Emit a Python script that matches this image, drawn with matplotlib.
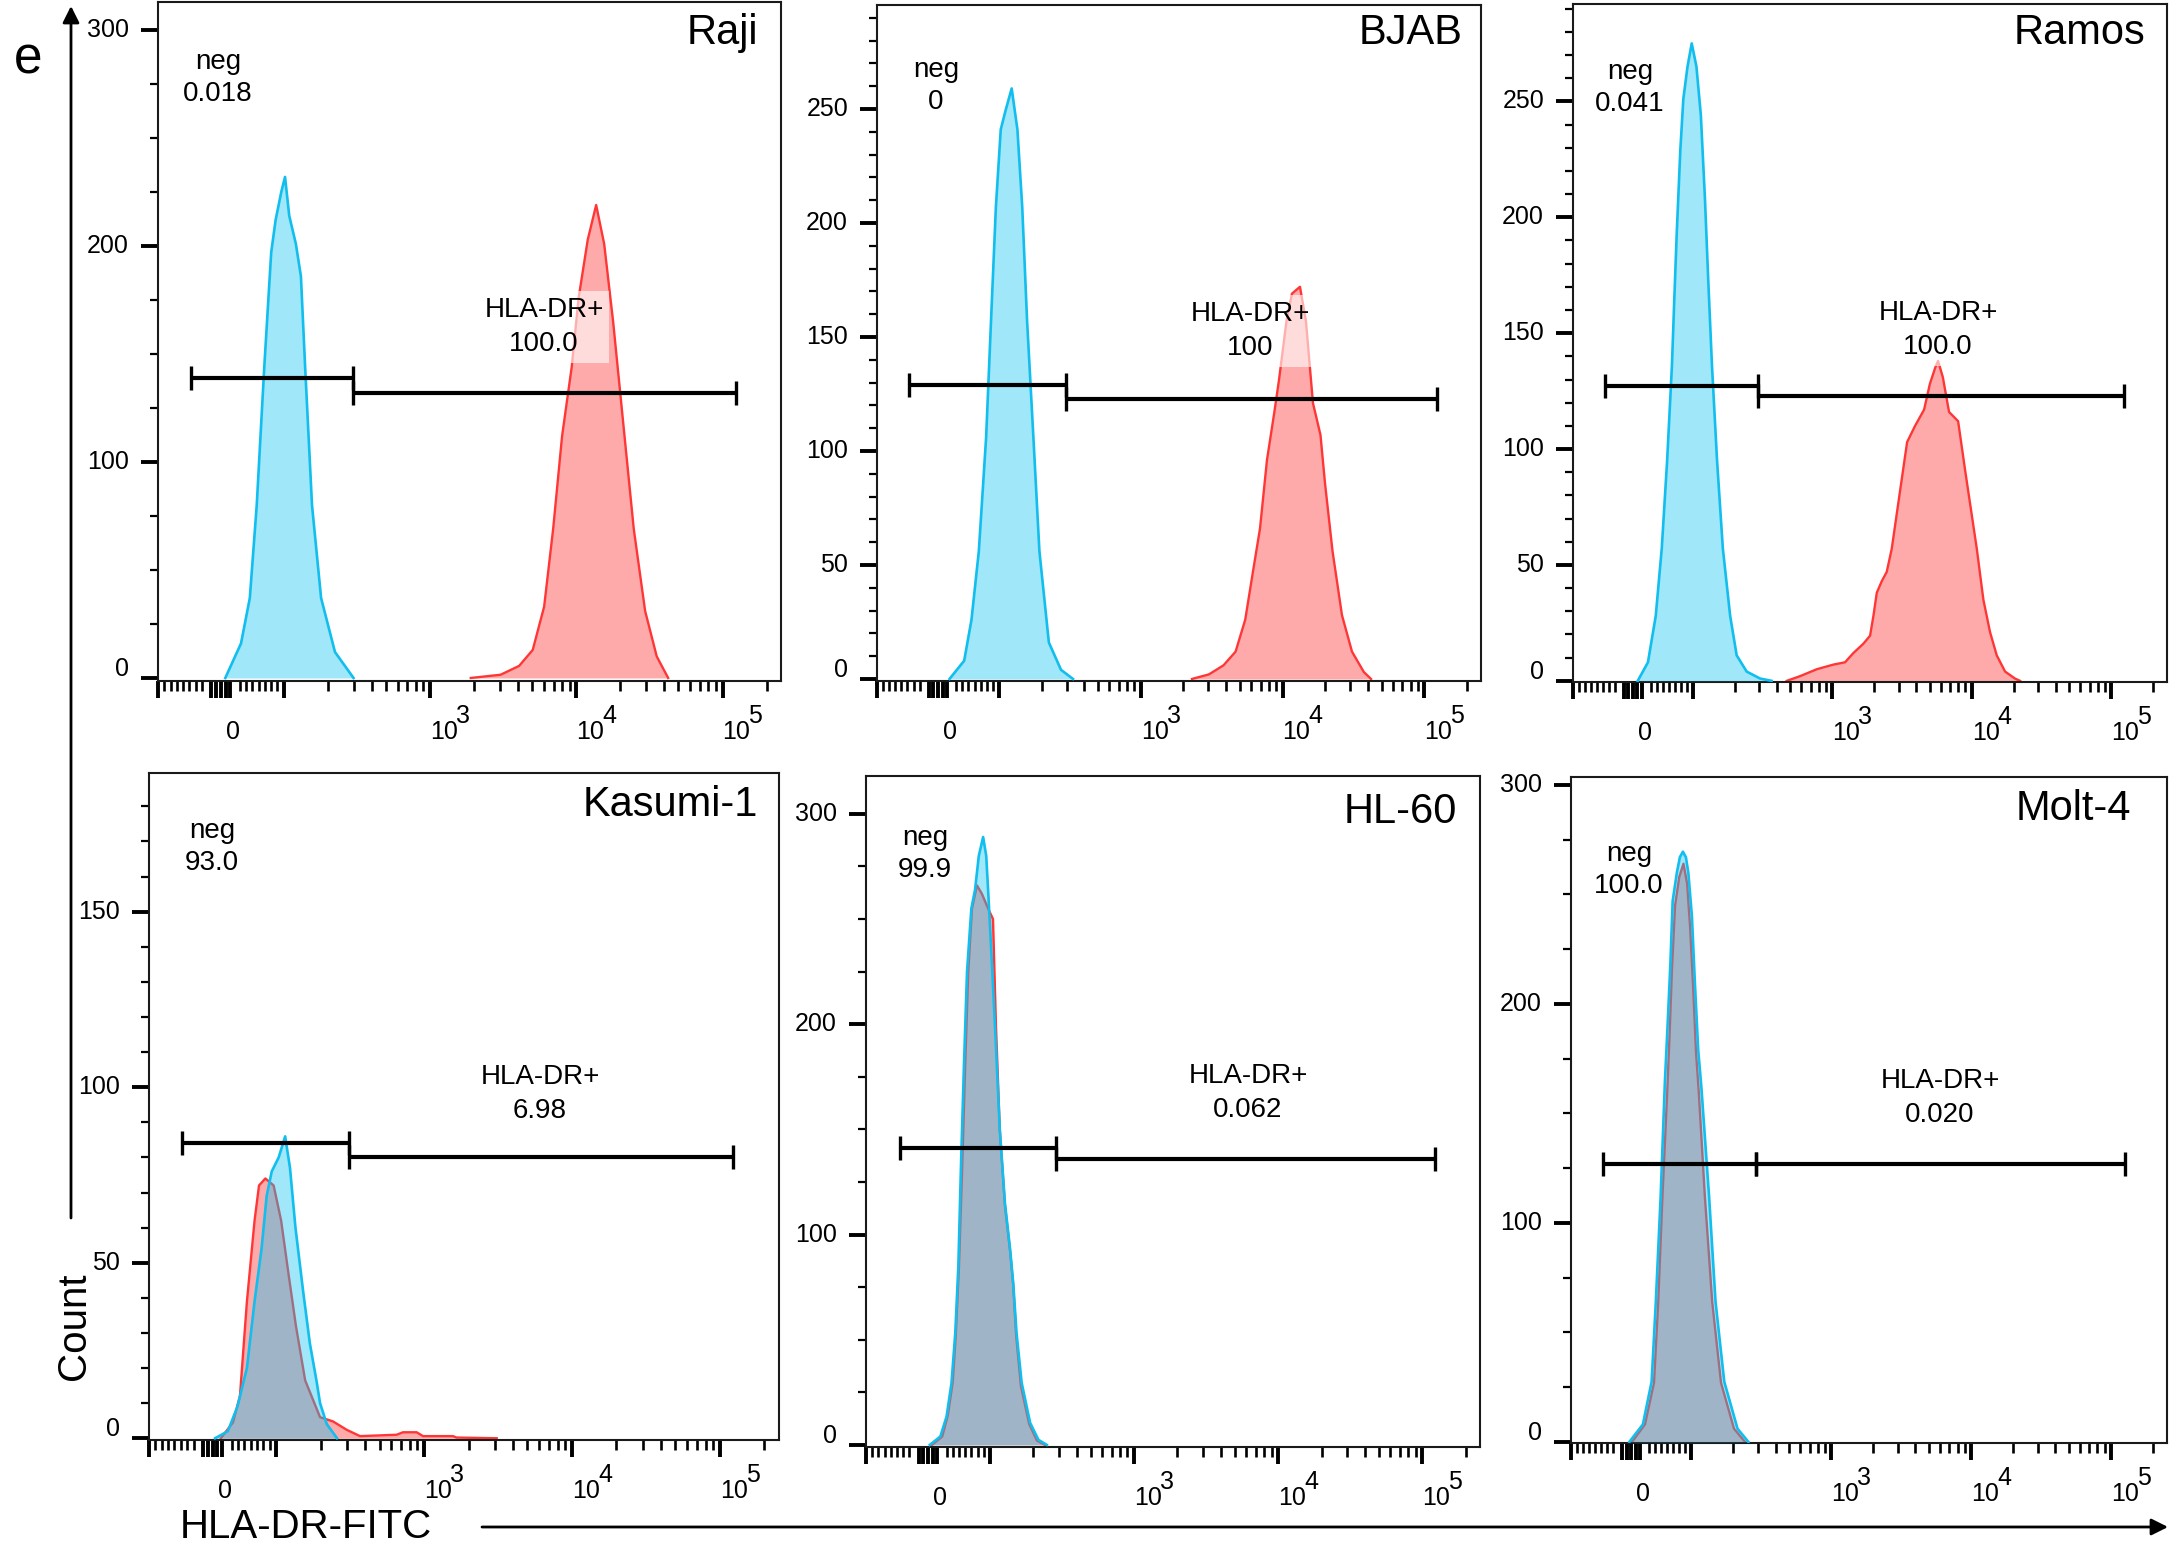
import numpy as np
import matplotlib
matplotlib.use("Agg")
import matplotlib.pyplot as plt
from matplotlib.transforms import ScaledTranslation, blended_transform_factory

# ---------------------------------------------------------------
# data (fluorescence value, count)
# ctrl = isotype / unstained (cyan), stain = HLA-DR-FITC (red)
# ---------------------------------------------------------------
cell_lines = ["Raji", "BJAB", "Ramos", "Kasumi-1", "HL-60", "Molt-4"]
neg_pct = ["0.018", "0", "0.041", "93.0", "99.9", "100.0"]
pos_pct = ["100.0", "100", "100.0", "6.98", "0.062", "0.020"]

raji_ctrl_x = [7, 32, 46, 57, 69, 80, 87, 96, 102, 109, 121, 131, 140, 156, 180, 224, 300]
raji_ctrl_n = [0, 16, 37, 80, 144, 197, 212, 225, 232, 214, 201, 186, 144, 80, 37, 12, 0]
raji_stain_x = [1900, 3040, 4070, 5040, 6030, 6950, 8000, 9310, 10380, 11990, 13680,
                15520, 17870, 20600, 24730, 29580, 35500, 42500]
raji_stain_n = [0, 1.5, 5.6, 13, 33, 69, 112, 144, 176, 203, 219, 201, 165, 123, 69, 31, 10, 0]

bjab_ctrl_x = [19, 43, 55, 67, 79, 87, 95, 103, 111, 123, 135, 146, 158, 175, 193, 225, 274, 333]
bjab_ctrl_n = [0, 8, 26, 56, 106, 157, 207, 241, 249, 259, 241, 207, 157, 106, 56, 16, 4, 0]
bjab_stain_x = [2300, 3030, 3840, 4670, 5460, 6150, 6940, 7770, 8760, 9440, 10670, 11660,
                13280, 14630, 16400, 18530, 19930, 22540, 26260, 30900, 37500, 42100]
bjab_stain_n = [0, 2, 6, 12, 26, 46, 66, 96, 117, 131, 157, 169, 172, 157, 121, 107, 86,
                56, 28, 12, 3, 0]

ramos_ctrl_x = [8, 25, 38, 48, 57, 65, 69, 73, 79, 84, 91, 98, 106, 114, 122, 129, 137,
                149, 164, 185, 206, 243, 303, 367]
ramos_ctrl_n = [0, 8, 28, 57, 95, 136, 165, 193, 229, 251, 265, 275, 265, 244, 208, 172,
                136, 95, 57, 28, 11, 4, 1, 0]
ramos_stain_x = [471, 586, 773, 1016, 1233, 1415, 1668, 1865, 1970, 2083, 2262, 2455, 2667,
                 3010, 3437, 3920, 4550, 5000, 5460, 5730, 6200, 6870, 7980, 8950, 10860,
                 12110, 13520, 15100, 17330, 20400, 22180]
ramos_stain_n = [0, 2, 5, 7, 8, 12, 16, 19.5, 28, 38, 43, 47, 57, 79, 103, 110, 117, 128,
                 135, 138, 131, 116, 112, 91, 57, 35, 21, 11, 4, 1, 0]

kasumi_ctrl_x = [4, 24, 39, 54, 66, 77, 85, 93, 104, 115, 124, 135, 152, 169, 188, 198, 220, 258]
kasumi_ctrl_n = [0, 2, 9, 20, 39, 54, 69, 76, 80, 86, 77, 60, 42, 27, 16, 10, 4, 0]
kasumi_stain_x = [13, 32, 43, 54, 66, 73, 83, 96, 108, 121, 136, 157, 198, 242, 300, 369,
                  653, 720, 891, 984, 1568, 1660, 3100]
kasumi_stain_n = [0, 4.5, 12, 39, 62, 72, 74, 72, 62, 47, 32, 16.5, 6, 4.8, 2.4, 0.6, 1,
                  1.7, 1.7, 0.6, 0.6, 0.2, 0]

hl60_ctrl_x = [3, 20, 30, 38, 44, 49, 53, 58, 63, 70, 76, 82, 89, 94, 97, 103, 110, 117,
               127, 138, 145, 153, 166, 190, 217, 248]
hl60_ctrl_n = [0, 4, 13.5, 29.5, 53, 85, 130, 180, 225, 255, 264, 280, 289, 280, 264, 230,
               190, 150, 115, 93, 77, 53, 29.5, 10.5, 2.4, 0]
hl60_stain_x = [6.5, 23, 32, 40, 45, 50, 55, 60, 65, 71, 79, 87, 97, 105, 110, 117, 127,
                138, 145, 152, 164, 187, 212, 241]
hl60_stain_n = [0, 4, 14, 30, 53, 85, 130, 180, 225, 255, 266, 262, 255, 250, 200, 150,
                114, 92, 76, 52, 28, 10, 2, 0]

molt4_ctrl_x = [-3, 19.5, 34, 41, 49, 56, 60, 65, 69, 76, 81, 86, 91, 95, 101, 106, 112,
                118, 134, 149, 172, 214, 256]
molt4_ctrl_n = [0, 8, 27.5, 64, 112, 164, 187, 217, 247, 260, 267, 269.5, 267, 260, 240,
                210, 179, 162, 112, 64, 27.5, 6, 0]
molt4_stain_x = [1.4, 23, 38, 45, 52, 60, 64, 68, 73, 80, 87, 93, 98, 103, 108, 113, 125,
                 141, 163, 202, 242]
molt4_stain_n = [0, 8, 27, 64, 112, 160, 187, 217, 245, 258, 264, 255, 235, 208, 178, 160,
                 112, 64, 27, 6, 0]

# gates: neg (lo, hi), pos (lo, hi), bar heights (count)
neg_gates = [(-48, 296), (-48, 297), (-47, 293), (-48, 310), (-45, 288), (-47, 292)]
pos_gates = [(296, 123900), (297, 122500), (293, 124000), (310, 122700), (288, 122800),
             (292, 125600)]
neg_gate_h = [139, 129, 127, 84, 141, 127]
pos_gate_h = [132, 123, 123, 80, 136, 127]

# y axis: (ymin, ymax), major step, minor step, last labelled tick
y_limits = [(-1.4, 313), (-0.9, 295.6), (-0.5, 292), (-0.5, 189.5), (-1, 318), (-0.5, 303.6)]
y_major = [100, 50, 50, 50, 100, 100]
y_minor = [25, 10, 10, 10, 25, 25]
y_top_label = [300, 250, 250, 150, 300, 300]

# ---------------------------------------------------------------
# layout (pixels in the 2170 x 1550 figure)
# ---------------------------------------------------------------
W, H = 2170, 1550
BOXES = [(158, 2, 781, 681), (877, 5, 1481, 681), (1573, 4, 2167, 682),
         (149, 773, 779, 1440), (866, 776, 1480, 1447), (1571, 777, 2167, 1443)]
NEG_POS = [(218, 78), (936, 86), (1630, 88), (212, 847), (925, 854), (1629, 870)]
PCT_POS = [(544, 327), (1250, 331), (1938, 330), (540, 1094), (1248, 1093), (1940, 1098)]
TITLE_POS = [(758, 33), (1463, 33), (2145, 33), (758, 805), (1457, 812), (2131, 809)]

NARROW = ["Liberation Sans Narrow", "Liberation Sans", "DejaVu Sans"]
REGULAR = ["Liberation Sans", "DejaVu Sans"]

RED_FILL = "#FFAAAA"
RED_LINE = "#FF3636"
BLUE_FILL = "#11C5F2"
BLUE_LINE = "#12BEEE"
TICK_FS = 18

# biexponential-like display: linear up to 100, log above
ZERO_POS = 1.57
LIN_SLOPE = 0.0043


def fwd(v):
    v = np.asarray(v, dtype=float)
    big = v > 100
    return np.where(big, np.log10(np.where(big, v, 100.0)), ZERO_POS + LIN_SLOPE * v)


def inv(d):
    d = np.asarray(d, dtype=float)
    hi = d > 2.0
    return np.where(hi, 10 ** np.where(hi, d, 2.0), (d - ZERO_POS) / LIN_SLOPE)


X_LEFT = float(inv(1.14))
X_RIGHT = float(inv(5.40))

major_x = [-100, -15, -7.5, 0, 7.5, 15, 100, 1e3, 1e4, 1e5]
minor_x = [v for v in range(-90, -20, 10)] + [v for v in range(30, 100, 10)]
minor_x += [k * 10 ** n for n in (2, 3, 4) for k in range(2, 10)] + [2e5]

fig = plt.figure(figsize=(W / 100, H / 100), dpi=100)


def px(x, y):
    return x / W, 1 - y / H


series = [
    (raji_ctrl_x, raji_ctrl_n, raji_stain_x, raji_stain_n),
    (bjab_ctrl_x, bjab_ctrl_n, bjab_stain_x, bjab_stain_n),
    (ramos_ctrl_x, ramos_ctrl_n, ramos_stain_x, ramos_stain_n),
    (kasumi_ctrl_x, kasumi_ctrl_n, kasumi_stain_x, kasumi_stain_n),
    (hl60_ctrl_x, hl60_ctrl_n, hl60_stain_x, hl60_stain_n),
    (molt4_ctrl_x, molt4_ctrl_n, molt4_stain_x, molt4_stain_n),
]

for i, (cx, cn, sx, sn) in enumerate(series):
    l, t, r, b = BOXES[i]
    ax = fig.add_axes([l / W, 1 - b / H, (r - l) / W, (b - t) / H])
    ax.set_xscale("function", functions=(fwd, inv))
    ax.set_xlim(X_LEFT, X_RIGHT)
    ax.set_ylim(*y_limits[i])

    # histograms: stain first, translucent control on top
    ax.fill_between(sx, sn, 0, color=RED_FILL, lw=0, zorder=1)
    ax.plot(sx, sn, color=RED_LINE, lw=1.7, zorder=2, solid_joinstyle="round")
    ax.fill_between(cx, cn, 0, color=BLUE_FILL, alpha=0.4, lw=0, zorder=3)
    ax.plot(cx, cn, color=BLUE_LINE, lw=1.9, zorder=4, solid_joinstyle="round")

    # gates
    for (g0, g1), gh in ((neg_gates[i], neg_gate_h[i]), (pos_gates[i], pos_gate_h[i])):
        ax.plot([g0, g1], [gh, gh], color="black", lw=3, solid_capstyle="butt", zorder=5)
        ax.plot([g0, g1], [gh, gh], ls="none", marker="|", ms=17, mew=2.4,
                color="black", zorder=5)

    # ticks
    ax.set_xticks(major_x)
    ax.set_xticks(minor_x, minor=True)
    ymaj = np.arange(0, y_top_label[i] + 1, y_major[i])
    ymin_t = np.arange(0, y_limits[i][1], y_minor[i])
    ax.set_yticks(ymaj)
    ax.set_yticks(ymin_t, minor=True)
    ax.tick_params(which="major", length=12, width=2.8, direction="out",
                   labelbottom=False, labelleft=False)
    ax.tick_params(axis="x", which="minor", length=7, width=1.9, direction="out")
    ax.tick_params(axis="y", which="minor", length=5.5, width=1.6, direction="out")
    for sp in ax.spines.values():
        sp.set_linewidth(1.5)
        sp.set_color("#1a1a1a")

    # x tick labels: "0", 10^3, 10^4, 10^5 (set slightly right of ticks, as FlowJo does)
    tx = blended_transform_factory(ax.transData, ax.transAxes)
    for v, base, sup in [(0, "0", ""), (1e3, "10", "3"), (1e4, "10", "4"), (1e5, "10", "5")]:
        dx = 12 if sup == "" else 14
        ax.text(v, 0, base, transform=tx + ScaledTranslation(dx / 100, -58 / 100,
                fig.dpi_scale_trans), ha="center", va="baseline", fontsize=TICK_FS,
                family=NARROW)
        if sup:
            ax.text(v, 0, sup, transform=tx + ScaledTranslation(26 / 100, -42 / 100,
                    fig.dpi_scale_trans), ha="left", va="baseline", fontsize=TICK_FS,
                    family=NARROW)

    # y tick labels
    ty = blended_transform_factory(ax.transAxes, ax.transData)
    for v in ymaj:
        up = 9 if v == 0 else 0
        ax.text(0, v, f"{int(v)}", transform=ty + ScaledTranslation(-29 / 100, up / 100,
                fig.dpi_scale_trans), ha="right", va="center", fontsize=TICK_FS,
                family=NARROW)

    # gate labels and title
    nx, ny = NEG_POS[i]
    fig.text(*px(nx, ny), f"neg\n{neg_pct[i]}", ha="center", va="center",
             multialignment="center", fontsize=20, family=NARROW, linespacing=1.3)
    qx, qy = PCT_POS[i]
    fig.text(*px(qx, qy), f"HLA-DR+\n{pos_pct[i]}", ha="center", va="center",
             multialignment="center", fontsize=20, family=NARROW, linespacing=1.4,
             bbox=dict(boxstyle="square,pad=0.2", fc="white", ec="none", alpha=0.6))
    ttx, tty = TITLE_POS[i]
    fig.text(*px(ttx, tty), cell_lines[i], ha="right", va="center", fontsize=30,
             family=REGULAR)

# overlay for panel letter, axis titles and arrows
ov = fig.add_axes([0, 0, 1, 1], zorder=-1)
ov.set_xlim(0, W)
ov.set_ylim(H, 0)
ov.axis("off")
arrow = dict(arrowstyle="-|>,head_length=1.0,head_width=0.5", lw=2.0, color="black",
             shrinkA=0, shrinkB=0)
ov.annotate("", xy=(71, 6), xytext=(71, 1218), arrowprops=arrow)
ov.annotate("", xy=(2168, 1527), xytext=(482, 1527), arrowprops=arrow)

fig.text(*px(28, 60), "e", ha="center", va="center", fontsize=37, family=REGULAR)
fig.text(*px(74, 1326), "Count", ha="center", va="center", rotation=90, fontsize=29,
         family=REGULAR)
fig.text(*px(306, 1527), "HLA-DR-FITC", ha="center", va="center", fontsize=29,
         family=REGULAR)

fig.savefig("out.png", dpi=100)
